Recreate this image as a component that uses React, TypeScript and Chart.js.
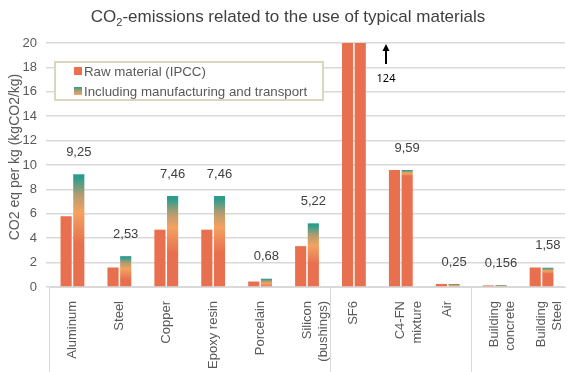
import React, { useEffect, useRef } from "react";
import { Chart, registerables } from "chart.js";

Chart.register(...registerables);

const categories: (string | string[])[] = [
  "Aluminum",
  "Steel",
  "Copper",
  "Epoxy resin",
  "Porcelain",
  ["Silicon", "(bushings)"],
  "SF6",
  ["C4-FN", "mixture"],
  "Air",
  ["Building", "concrete"],
  ["Building", "Steel"],
];
const rawMaterial = [5.8, 1.6, 4.7, 4.7, 0.45, 3.35, 124, 9.59, 0.25, 0.13, 1.6];
const inclManufacturing = [9.25, 2.53, 7.46, 7.46, 0.68, 5.22, 124, 9.59, 0.25, 0.156, 1.58];
const valueLabels = ["9,25", "2,53", "7,46", "7,46", "0,68", "5,22", "", "9,59", "0,25", "0,156", "1,58"];
const offChartLabel = "124";
const offChartIndex = 6;
const groupStarts = [0, 6, 9];
const yMin = 0;
const yMax = 20;
const yStep = 2;
const seriesNames = ["Raw material (IPCC)", "Including manufacturing and transport"];
const yTitle = "CO2 eq per kg (kgCO2/kg)";

const RED = "#E8704F";
const ORANGE = "#F4A261";
const MID = "#B39C70";
const TEAL = "#2A9D8F";
const GRID = "#D9D9D9";
const TXT = "#595959";
const FONT = "'Liberation Sans', Arial, sans-serif";

const overlayPlugin = {
  id: "overlay",
  afterDraw(chart: any) {
    const { ctx, chartArea: ca, scales } = chart;
    const xs = scales.x;
    const cat = xs.getPixelForValue(1) - xs.getPixelForValue(0);
    ctx.save();

    // group separators below the axis
    ctx.strokeStyle = GRID;
    ctx.lineWidth = 1;
    groupStarts.forEach((i) => {
      const x = Math.round(xs.getPixelForValue(i) - cat / 2) + 0.5;
      ctx.beginPath();
      ctx.moveTo(x, ca.bottom);
      ctx.lineTo(x, chart.height);
      ctx.stroke();
    });

    // value labels
    const meta = chart.getDatasetMeta(1);
    ctx.fillStyle = "#404040";
    ctx.font = `13px ${FONT}`;
    ctx.textAlign = "center";
    ctx.textBaseline = "middle";
    valueLabels.forEach((t, i) => {
      if (!t) return;
      const el = meta.data[i];
      ctx.fillText(t, el.x, el.y - 22);
    });

    // off-chart arrow
    const ax = Math.round(xs.getPixelForValue(offChartIndex) + 0.68 * cat);
    ctx.strokeStyle = "#000";
    ctx.fillStyle = "#000";
    ctx.lineWidth = 2;
    ctx.beginPath();
    ctx.moveTo(ax, ca.top + 21);
    ctx.lineTo(ax, ca.top + 6);
    ctx.stroke();
    ctx.beginPath();
    ctx.moveTo(ax, ca.top + 1);
    ctx.lineTo(ax - 3.5, ca.top + 8);
    ctx.lineTo(ax + 3.5, ca.top + 8);
    ctx.closePath();
    ctx.fill();
    ctx.font = `11px 'Noto Sans', sans-serif`;
    ctx.fillText(offChartLabel, ax, ca.top + 36);

    // legend
    const lx = ca.left + 6;
    const ly = ca.top + 19;
    ctx.fillStyle = "#fff";
    ctx.fillRect(lx, ly, 268, 38);
    ctx.strokeStyle = "#DAD7C0";
    ctx.lineWidth = 2;
    ctx.strokeRect(lx, ly, 268, 38);
    ctx.fillStyle = RED;
    ctx.fillRect(lx + 19, ly + 5, 8, 8);
    const g = ctx.createLinearGradient(0, ly + 25, 0, ly + 33);
    g.addColorStop(0, TEAL);
    g.addColorStop(0.5, MID);
    g.addColorStop(1, ORANGE);
    ctx.fillStyle = g;
    ctx.fillRect(lx + 19, ly + 25, 8, 8);
    ctx.fillStyle = TXT;
    ctx.font = `13.3px ${FONT}`;
    ctx.textAlign = "left";
    ctx.fillText(seriesNames[0], lx + 29, ly + 10);
    ctx.fillText(seriesNames[1], lx + 29, ly + 30);

    // title with subscript
    ctx.fillStyle = "#404040";
    ctx.textBaseline = "alphabetic";
    const big = `17px ${FONT}`;
    const small = `11px ${FONT}`;
    ctx.font = big;
    const w1 = ctx.measureText("CO").width;
    const w3 = ctx.measureText("-emissions related to the use of typical materials").width;
    ctx.font = small;
    const w2 = ctx.measureText("2").width;
    let tx = 288 - (w1 + w2 + w3) / 2;
    const ty = 22;
    ctx.font = big;
    ctx.fillText("CO", tx, ty);
    tx += w1;
    ctx.font = small;
    ctx.fillText("2", tx, ty + 4);
    tx += w2;
    ctx.font = big;
    ctx.fillText("-emissions related to the use of typical materials", tx, ty);

    // y title
    ctx.save();
    ctx.translate(15, (ca.top + ca.bottom) / 2 - 8);
    ctx.rotate(-Math.PI / 2);
    ctx.textAlign = "center";
    ctx.textBaseline = "middle";
    ctx.fillStyle = TXT;
    ctx.font = `14px ${FONT}`;
    ctx.fillText(yTitle, 0, 0);
    ctx.restore();

    ctx.restore();
  },
};

function gradientFill(ctx: any) {
  if (ctx.type !== "data") return RED;
  const chart = ctx.chart;
  const y = chart.scales && chart.scales.y;
  if (!y || !chart.chartArea) return RED;
  const i = ctx.dataIndex;
  const top = inclManufacturing[i];
  const raw = rawMaterial[i];
  const len = 1.5 * Math.max(0, top - raw) + 0.5;
  const start = Math.max(0, top - len);
  const y0 = y.getPixelForValue(start);
  const y1 = y.getPixelForValue(top);
  if (!isFinite(y0) || !isFinite(y1) || y0 === y1) return RED;
  const g = chart.ctx.createLinearGradient(0, y0, 0, y1);
  g.addColorStop(0, RED);
  g.addColorStop(0.45, ORANGE);
  g.addColorStop(0.7, MID);
  g.addColorStop(0.95, TEAL);
  g.addColorStop(1, TEAL);
  return g;
}

export default function App() {
  const ref = useRef<HTMLCanvasElement>(null);
  useEffect(() => {
    if (!ref.current) return;
    const chart = new Chart(ref.current, {
      type: "bar",
      data: {
        labels: categories,
        datasets: [
          { label: seriesNames[0], data: rawMaterial, backgroundColor: RED, borderWidth: 0 },
          { label: seriesNames[1], data: inclManufacturing, backgroundColor: gradientFill as any, borderWidth: 0 },
        ],
      },
      options: {
        responsive: false,
        animation: false,
        events: [],
        datasets: { bar: { categoryPercentage: 0.54, barPercentage: 0.88 } },
        layout: { padding: { top: 43, right: 2, left: 0, bottom: 0 } },
        plugins: { legend: { display: false }, tooltip: { enabled: false }, title: { display: false } },
        scales: {
          x: {
            grid: { display: false },
            border: { display: true, color: GRID, width: 1 },
            ticks: {
              autoSkip: false,
              minRotation: 90,
              maxRotation: 90,
              padding: 6,
              color: TXT,
              font: { family: FONT, size: 13, lineHeight: 1.25 },
            },
            afterFit: (s: any) => {
              s.height = 85;
              s.paddingLeft = 0;
              s.paddingRight = 0;
            },
          },
          y: {
            min: yMin,
            max: yMax,
            border: { display: false },
            grid: { color: GRID, lineWidth: 1.5, tickLength: 3 },
            ticks: { stepSize: yStep, color: TXT, padding: 9, font: { family: FONT, size: 13 } },
            afterFit: (s: any) => {
              s.width = 49;
              s.paddingTop = 0;
              s.paddingBottom = 0;
            },
          },
        },
      },
      plugins: [overlayPlugin],
    });
    return () => chart.destroy();
  }, []);
  return (
    <div style={{ position: "absolute", left: 0, top: 0, width: 567, height: 372, background: "#fff" }}>
      <canvas ref={ref} width={567} height={372} />
    </div>
  );
}
